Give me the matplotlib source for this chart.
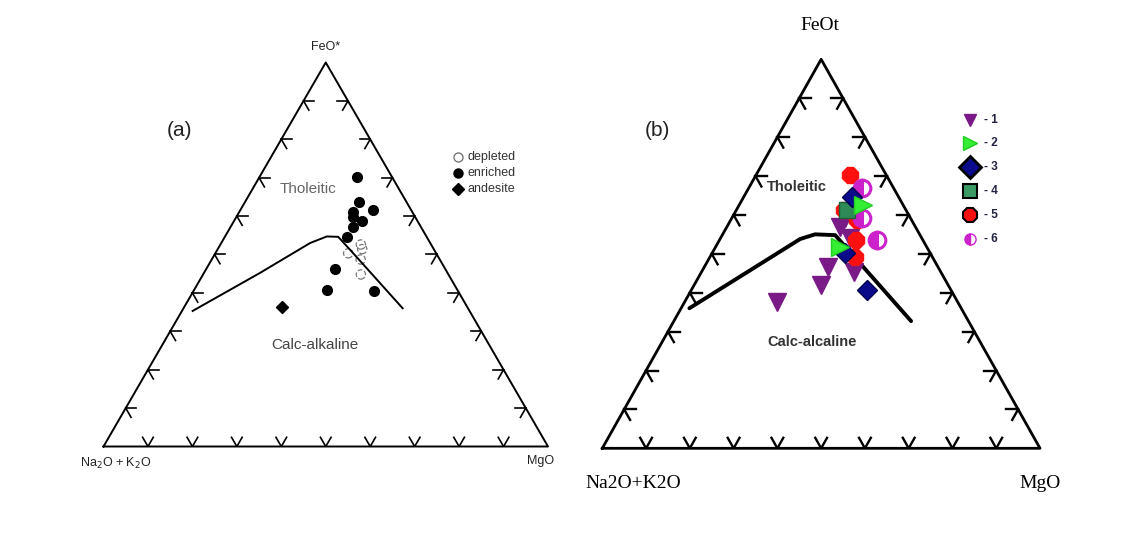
import numpy as np
import matplotlib
matplotlib.use("Agg")
import matplotlib.pyplot as plt

# ternary compositions in percent: (Na2O+K2O, FeO, MgO)
# panel (a)
enriched_A = [7.9, 10.7, 8.6, 13.4, 13.9, 12.5, 15.3, 17.9, 24.8, 29.4, 18.9]
enriched_F = [70.1, 63.7, 61.5, 61.1, 59.8, 58.7, 57.1, 54.5, 46.3, 40.8, 40.4]
enriched_M = [22.0, 25.6, 29.9, 25.5, 26.3, 28.8, 27.6, 27.6, 28.9, 29.8, 40.7]
depleted_A = [15.8, 16.1, 19.8, 17.8, 19.7]
depleted_F = [52.6, 51.4, 50.3, 48.7, 44.8]
depleted_M = [31.6, 32.5, 29.9, 33.5, 35.5]
andesite_A = [41.7]
andesite_F = [36.4]
andesite_M = [21.9]
curve_a_A = [62.3, 42.2, 27.0, 22.4, 19.9, 18.9, 14.7]
curve_a_F = [35.3, 45.2, 53.0, 54.7, 54.6, 51.2, 36.0]
curve_a_M = [2.4, 12.6, 20.0, 22.9, 25.5, 29.9, 49.3]

# panel (b)
s1_A = [41.2, 29.0, 25.0, 19.8, 15.0, 17.3, 16.4]
s1_F = [37.7, 42.0, 46.7, 45.4, 59.1, 56.8, 54.0]
s1_M = [21.1, 29.0, 28.3, 34.8, 25.9, 25.9, 29.6]
s2_A = [9.2, 19.8]
s2_F = [62.5, 51.8]
s2_M = [28.3, 28.4]
s3_A = [10.8, 19.2, 19.5]
s3_F = [64.5, 40.7, 50.1]
s3_M = [24.7, 40.1, 30.4]
s4_A = [13.5]
s4_F = [61.3]
s4_M = [25.2]
s5_A = [8.3, 12.5, 15.2, 17.7, 14.2]
s5_F = [70.3, 58.7, 53.5, 49.3, 61.3]
s5_M = [21.4, 28.8, 31.3, 33.0, 24.5]
s6_A = [7.3, 10.5, 11.2]
s6_F = [66.8, 53.5, 59.1]
s6_M = [25.9, 36.0, 29.7]
curve_b_A = [62.1, 27.9, 23.9, 19.4, 13.1]
curve_b_F = [36.0, 53.8, 55.0, 54.8, 32.7]
curve_b_M = [1.9, 18.3, 21.1, 25.8, 54.2]

H = np.sqrt(3) / 2


def tern(A, F, M):
    A, F, M = np.asarray(A, float), np.asarray(F, float), np.asarray(M, float)
    tot = A + F + M
    F, M = F / tot, M / tot
    return M + F / 2, F * H


def frame(ax, lw, tl):
    ax.plot([0, 1, 0.5, 0], [0, 0, H, 0], color="black", lw=lw, clip_on=False)
    c, s = 0.5, H
    for t in np.arange(0.1, 0.95, 0.1):
        # bottom edge
        p = np.array([t, 0.0])
        for d in [(c, s), (-c, s)]:
            ax.plot([p[0], p[0] + tl * d[0]], [p[1], p[1] + tl * d[1]], color="black", lw=lw * 0.85)
        # left edge
        p = np.array([0.5 * t, H * t])
        for d in [(1, 0), (c, -s)]:
            ax.plot([p[0], p[0] + tl * d[0]], [p[1], p[1] + tl * d[1]], color="black", lw=lw * 0.85)
        # right edge
        p = np.array([1 - 0.5 * t, H * t])
        for d in [(-1, 0), (-c, -s)]:
            ax.plot([p[0], p[0] + tl * d[0]], [p[1], p[1] + tl * d[1]], color="black", lw=lw * 0.85)
    ax.set_xlim(0, 1)
    ax.set_ylim(0, H)
    ax.axis("off")


fig = plt.figure(figsize=(11.47, 5.56), dpi=100)
W, Hp = 1147.0, 556.0


def ftext(x, y, s, **kw):
    fig.text(x / W, 1 - y / Hp, s, ha=kw.pop("ha", "center"), va=kw.pop("va", "center"), **kw)


# ---- panel (a)
axa = fig.add_axes([103.5 / W, 1 - 446.5 / Hp, 444.5 / W, 384 / Hp])
frame(axa, 1.4, 0.024)
x, y = tern(curve_a_A, curve_a_F, curve_a_M)
axa.plot(x, y, color="black", lw=1.4)
x, y = tern(enriched_A, enriched_F, enriched_M)
axa.plot(x, y, "o", color="black", ms=7, ls="none")
x, y = tern(depleted_A, depleted_F, depleted_M)
axa.scatter(x, y, s=45, facecolors="none", edgecolors="#777777", linestyles="dashed", lw=0.9)
x, y = tern(andesite_A, andesite_F, andesite_M)
axa.plot(x, y, "D", color="black", ms=6.5, ls="none")

sans = "Liberation Sans"
ftext(326, 47, "FeO*", fontsize=9, family=sans, color="#222222")
ftext(116, 463, r"Na$_2$O + K$_2$O", fontsize=9, family=sans, color="#222222")
ftext(541, 461, "MgO", fontsize=9, family=sans, color="#222222")
ftext(180, 131, "(a)", fontsize=15, family=sans, color="#222222")
ftext(308, 189, "Tholeitic", fontsize=11, family=sans, color="#666666")
ftext(315, 345, "Calc-alkaline", fontsize=11, family=sans, color="#444444")

# legend (a)
fig.lines.append(plt.Line2D([458 / W], [1 - 157 / Hp], marker="o", mfc="none", mec="#777777",
                            ls="none", ms=6.5, transform=fig.transFigure))
fig.lines.append(plt.Line2D([458 / W], [1 - 173 / Hp], marker="o", color="black",
                            ls="none", ms=6.5, transform=fig.transFigure))
fig.lines.append(plt.Line2D([458 / W], [1 - 189 / Hp], marker="D", color="black",
                            ls="none", ms=6.5, transform=fig.transFigure))
for yy, lab in [(157, "depleted"), (173, "enriched"), (189, "andesite")]:
    ftext(467, yy, lab, fontsize=9, family=sans, color="#333333", ha="left")

# ---- panel (b)
axb = fig.add_axes([602.3 / W, 1 - 448.3 / Hp, 437.7 / W, 389 / Hp])
frame(axb, 2.0, 0.027)
x, y = tern(curve_b_A, curve_b_F, curve_b_M)
axb.plot(x, y, color="black", lw=2.8, solid_capstyle="round")

styles = [
    (s1_A, s1_F, s1_M, dict(marker="v", mfc="#7a1a86", mec="#7a1a86", ms=12.5)),
    (s5_A, s5_F, s5_M, dict(marker="8", mfc="#ff1010", mec="#ff1010", ms=12.5)),
    (s6_A, s6_F, s6_M, dict(marker="o", mfc="#cc22cc", mec="#cc22cc", ms=12,
                            fillstyle="left", markerfacecoloralt="white", mew=2.2)),
    (s4_A, s4_F, s4_M, dict(marker="s", mfc="#2e8b57", mec="#1f5f3a", ms=11)),
    (s3_A, s3_F, s3_M, dict(marker="D", mfc="#0a0a8a", mec="#000050", ms=10)),
    (s2_A, s2_F, s2_M, dict(marker=">", mfc="#33ee33", mec="#22cc22", ms=12.5)),
]
for A, F, M, st in styles:
    x, y = tern(A, F, M)
    axb.plot(x, y, ls="none", **st)

serif = "Liberation Serif"
ftext(820, 25, "FeOt", fontsize=14, family=serif)
ftext(633, 484, "Na2O+K2O", fontsize=14, family=serif)
ftext(1040, 484, "MgO", fontsize=14, family=serif)
ftext(657, 130, "(b)", fontsize=15, family=sans, color="#222222")
ftext(797, 187, "Tholeitic", fontsize=10.5, family=sans, weight="bold", color="#333333")
ftext(812, 342, "Calc-alcaline", fontsize=10.5, family=sans, weight="bold", color="#333333")

# legend (b)
leg_markers = [
    dict(marker="v", mfc="#7a1a86", mec="#7a1a86", ms=8),
    dict(marker=">", mfc="#33ee33", mec="#22cc22", ms=10),
    dict(marker="D", mfc="#0a0a8a", mec="black", ms=11, mew=2),
    dict(marker="s", mfc="#3a9a66", mec="black", ms=10, mew=1.5),
    dict(marker="8", mfc="#ff1010", mec="black", ms=11, mew=1.5),
    dict(marker="o", mfc="#cc22cc", mec="#cc22cc", ms=8, fillstyle="left",
         markerfacecoloralt="white"),
]
leg_y = [120, 143, 167, 191, 215, 239]
for i, (yy, st) in enumerate(zip(leg_y, leg_markers)):
    fig.lines.append(plt.Line2D([970 / W], [1 - yy / Hp], ls="none", transform=fig.transFigure, **st))
    ftext(984, yy, "- %d" % (i + 1), fontsize=8.5, family=sans, weight="bold", color="#222244", ha="left")

fig.savefig("out.png", dpi=100)
